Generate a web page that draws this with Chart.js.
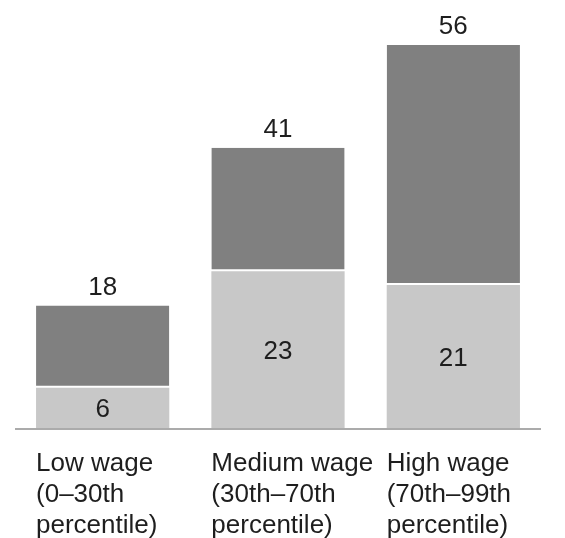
<!DOCTYPE html>
<html>
<head>
<meta charset="utf-8">
<script src="https://cdn.jsdelivr.net/npm/chart.js@4"></script>
<style>
  html, body { margin: 0; padding: 0; background: #fff; }
  #wrap { width: 565px; height: 538px; }
</style>
</head>
<body>
<div id="wrap"><canvas id="wageChart" width="565" height="538"></canvas></div>
<script>
// data
const categories = [
  ['Low wage', '(0\u201330th', 'percentile)'],
  ['Medium wage', '(30th\u201370th', 'percentile)'],
  ['High wage', '(70th\u201399th', 'percentile)']
];
const lowerValues = [6, 23, 21];
const upperValues = [12, 18, 35];
const totals = [18, 41, 56];

const FONT = '26px "Liberation Sans", Arial, sans-serif';
const TEXT = '#1e1e1e';

// labels + axis line drawn by hand
const labelPlugin = {
  id: 'labelPlugin',
  afterDraw(chart) {
    const ctx = chart.ctx;
    const y = chart.scales.y;
    const area = chart.chartArea;
    const base = y.getPixelForValue(0);

    ctx.save();
    ctx.strokeStyle = '#ababab';
    ctx.lineWidth = 2;
    ctx.beginPath();
    ctx.moveTo(area.left, base);
    ctx.lineTo(area.right, base);
    ctx.stroke();

    ctx.font = FONT;
    ctx.fillStyle = TEXT;
    ctx.textBaseline = 'alphabetic';
    const lowMeta = chart.getDatasetMeta(0);
    lowMeta.data.forEach((bar, i) => {
      // value inside bottom segment
      ctx.textAlign = 'center';
      ctx.fillText(String(lowerValues[i]), bar.x, (bar.y + bar.base) / 2 + 9);
      // total above stack
      const top = y.getPixelForValue(totals[i]);
      ctx.fillText(String(totals[i]), bar.x, top - 11);
      // category label, left aligned to bar edge
      ctx.textAlign = 'left';
      const left = bar.x - bar.width / 2;
      categories[i].forEach((line, k) => {
        ctx.fillText(line, left, base + 42 + k * 31);
      });
    });
    ctx.restore();
  }
};

const ctx = document.getElementById('wageChart');
new Chart(ctx, {
  type: 'bar',
  data: {
    labels: categories.map(c => c.join(' ')),
    datasets: [{
      label: 'lower',
      data: lowerValues,
      backgroundColor: '#c8c8c8',
      borderWidth: 0,
      barPercentage: 0.76,
      categoryPercentage: 1
    }, {
      label: 'upper',
      data: upperValues,
      backgroundColor: '#808080',
      borderColor: '#ffffff',
      borderWidth: { bottom: 2 },
      borderSkipped: false,
      barPercentage: 0.76,
      categoryPercentage: 1
    }]
  },
  options: {
    responsive: false,
    animation: false,
    layout: { padding: { left: 15, right: 24, top: 45, bottom: 109 } },
    plugins: {
      legend: { display: false },
      tooltip: { enabled: false }
    },
    scales: {
      x: { stacked: true, display: false },
      y: { stacked: true, display: false, min: 0, max: 56 }
    }
  },
  plugins: [labelPlugin]
});
</script>
</body>
</html>
